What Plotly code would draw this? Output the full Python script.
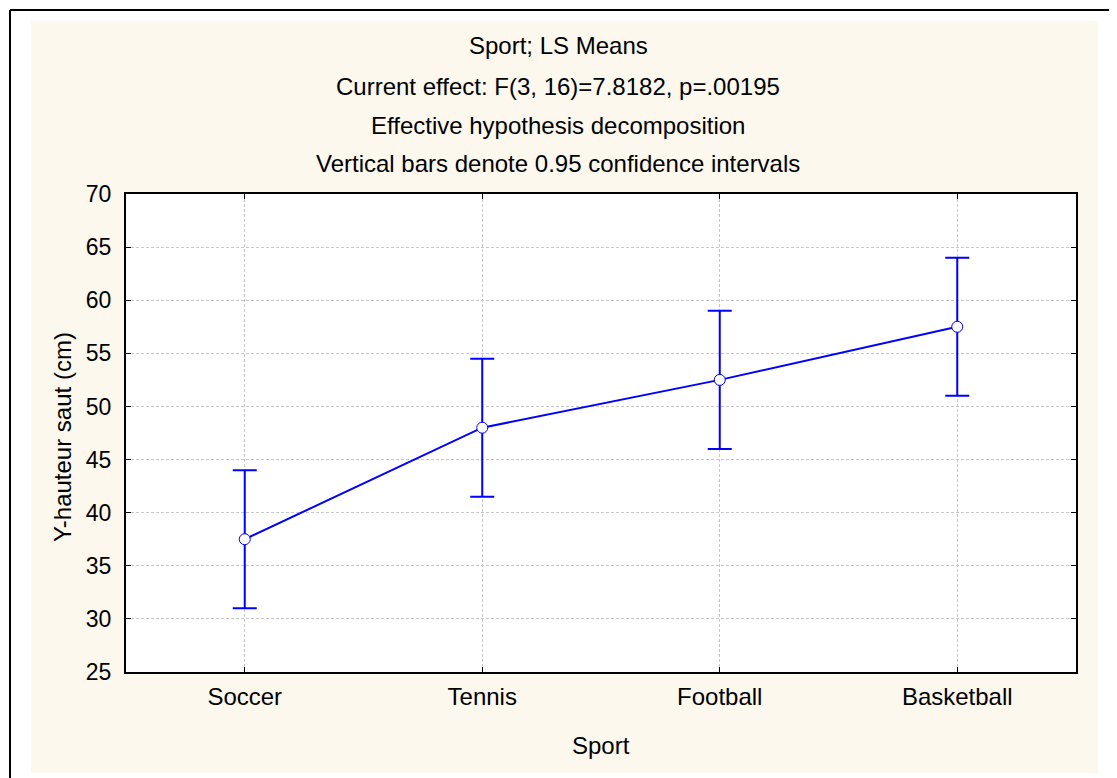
import plotly.graph_objects as go

# ---- data ----
categories = ["Soccer", "Tennis", "Football", "Basketball"]
means = [37.5, 48.0, 52.5, 57.5]
ci_lower = [31.0, 41.5, 46.0, 51.0]
ci_upper = [44.0, 54.5, 59.0, 64.0]
y_ticks = [25, 30, 35, 40, 45, 50, 55, 60, 65, 70]

title_lines = [
    "Sport; LS Means",
    "Current effect: F(3, 16)=7.8182, p=.00195",
    "Effective hypothesis decomposition",
    "Vertical bars denote 0.95 confidence intervals",
]

# ---- layout geometry (page pixels) ----
W, H = 1117, 778
OFF = 8  # default body margin of the html page
L, R, T, B = 126, 1076, 194, 672
PW, PH = R - L, B - T


def px_x(px):
    return (px - L) / PW


def px_y(py):
    return (B - py) / PH


FONT = "Liberation Sans, Arial, sans-serif"
FS_TXT = 24
FS_Y = 23
BLUE = "#0000FF"
CREAM = "#FCF8EE"

err_plus = [u - m for u, m in zip(ci_upper, means)]
err_minus = [m - l for m, l in zip(means, ci_lower)]

fig = go.Figure()
fig.add_trace(go.Scatter(
    x=categories, y=means, mode="lines+markers",
    line=dict(color=BLUE, width=2),
    marker=dict(symbol="circle", size=11, color="white",
                line=dict(color=BLUE, width=1)),
    error_y=dict(type="data", symmetric=False, array=err_plus,
                 arrayminus=err_minus, color=BLUE, thickness=2, width=12),
    showlegend=False, hoverinfo="x+y",
))

shapes = [
    dict(type="rect", xref="paper", yref="paper",
         x0=px_x(31), x1=px_x(1098), y0=px_y(773), y1=px_y(21),
         fillcolor=CREAM, line=dict(width=0), layer="below"),
    dict(type="rect", xref="paper", yref="paper",
         x0=0, x1=1, y0=0, y1=1,
         fillcolor="white", line=dict(width=0), layer="below"),
    dict(type="line", xref="paper", yref="paper",
         x0=px_x(10), x1=px_x(W + 20), y0=px_y(10), y1=px_y(10),
         line=dict(color="black", width=2)),
    dict(type="line", xref="paper", yref="paper",
         x0=px_x(10), x1=px_x(10), y0=px_y(10), y1=px_y(H + 20),
         line=dict(color="black", width=2)),
]

annotations = []
for txt, py in zip(title_lines, [46, 87, 126, 163]):
    annotations.append(dict(
        text=txt, xref="paper", yref="paper", x=px_x(558), y=px_y(py),
        xanchor="center", yanchor="middle", showarrow=False,
        font=dict(family=FONT, size=FS_TXT, color="black")))
annotations.append(dict(
    text="Sport", xref="paper", yref="paper", x=px_x(601), y=px_y(745),
    xanchor="center", yanchor="middle", showarrow=False,
    font=dict(family=FONT, size=FS_TXT, color="black")))
annotations.append(dict(
    text="Y-hauteur saut (cm)", xref="paper", yref="paper",
    x=px_x(62), y=px_y(437), textangle=-90,
    xanchor="center", yanchor="middle", showarrow=False,
    font=dict(family=FONT, size=FS_TXT, color="black")))

fig.update_layout(
    width=W - OFF, height=H - OFF,
    margin=dict(l=L - OFF, r=W - R, t=T - OFF, b=H - B, pad=0),
    paper_bgcolor="white", plot_bgcolor="white",
    shapes=shapes, annotations=annotations,
    font=dict(family=FONT, size=FS_Y, color="black"),
)

fig.update_xaxes(
    type="category", range=[-0.5, 3.5],
    showline=True, linecolor="black", linewidth=2, mirror="ticks",
    ticks="inside", ticklen=5, tickwidth=1, tickcolor="black",
    showgrid=True, gridcolor="#c8c8c8", gridwidth=1, griddash="3px,2px",
    tickfont=dict(family=FONT, size=FS_TXT), ticklabelstandoff=2,
    zeroline=False,
)
fig.update_yaxes(
    range=[25, 70], tickvals=y_ticks,
    showline=True, linecolor="black", linewidth=2, mirror="ticks",
    ticks="inside", ticklen=5, tickwidth=1, tickcolor="black",
    showgrid=True, gridcolor="#c8c8c8", gridwidth=1, griddash="3px,2px",
    tickfont=dict(family=FONT, size=FS_Y), ticklabelstandoff=8,
    zeroline=False,
)

fig.write_html("out.html")
